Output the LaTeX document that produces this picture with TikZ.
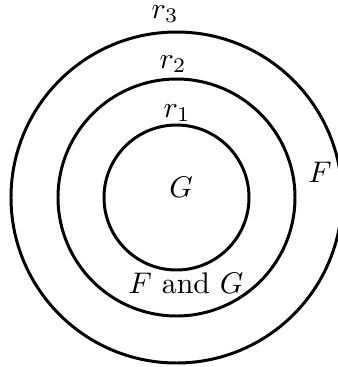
\documentclass[tikz,border=0pt]{standalone}
\begin{document}
\begin{tikzpicture}[x=0.335pt,y=-0.335pt,
  ring/.style={line width=1pt},
  lbl/.style={anchor=base,inner sep=0pt}]
\useasboundingbox (0,0) rectangle (338,367);
\clip (0,0) rectangle (338,367);
\coordinate (c) at (176.5,197.5);
\draw[ring] (c) circle[radius=72.5];
\draw[ring] (c) circle[radius=118.5];
\draw[ring] (c) circle[radius=165.5];
\node[lbl] (r3) at (165,18) {$r_3$};
\node[lbl] (r2) at (173,68) {$r_2$};
\node[lbl] (r1) at (177,117) {$r_1$};
\node[lbl] (g) at (181,197) {$G$};
\node[lbl] (f) at (320,182) {$F$};
\node[lbl] (fg) at (186,293) {$F$ and $G$};
\end{tikzpicture}
\end{document}
